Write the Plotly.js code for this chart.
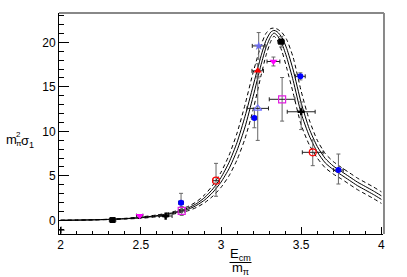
<!DOCTYPE html>
<html><head><meta charset="utf-8">
<script src="https://cdn.plot.ly/plotly-3.0.1.min.js"></script>
<style>html,body{margin:0;padding:0;background:#fff;}#plot{width:407px;height:277px;}</style>
</head><body><div id="plot"></div>
<script>
// Fit curves
const curveX = [2.0,2.1,2.2,2.3,2.4,2.5,2.6,2.7,2.8,2.85,2.9,2.95,3.0,3.05,3.1,3.15,3.2,3.25,3.28,3.31,3.33,3.35,3.38,3.41,3.45,3.5,3.55,3.6,3.65,3.7,3.75,3.8,3.85,3.9,3.95,4.0];
const solidHi = [0,0.02,0.05,0.11,0.19,0.32,0.53,0.86,1.43,1.90,2.59,3.54,4.81,6.5,8.75,11.7,15.1,18.5,20.2,21.15,21.35,21.2,20.55,19.3,16.9,13.2,10.3,8.3,6.95,6.1,5.5,4.9,4.3,3.8,3.3,2.75];
const solidLo = [0,0.02,0.05,0.09,0.17,0.28,0.47,0.78,1.27,1.70,2.31,3.16,4.29,5.8,7.85,10.5,13.9,17.5,19.4,20.65,21.05,20.8,19.85,18.3,15.7,12.0,9.5,7.7,6.45,5.7,5.1,4.5,3.9,3.4,2.9,2.35];
const dashHi = [0,0.025,0.06,0.12,0.22,0.38,0.60,0.95,1.60,2.13,2.90,3.97,5.40,7.30,9.80,13.0,16.6,19.7,21.0,21.55,21.6,21.5,21.1,20.3,18.3,14.5,11.3,9.0,7.5,6.6,5.95,5.35,4.75,4.25,3.75,3.2];
const dashLo = [0,0.015,0.04,0.08,0.14,0.22,0.40,0.69,1.10,1.47,2.0,2.73,3.70,5.0,6.8,9.2,12.4,16.3,18.5,20.1,20.7,20.3,19.0,17.1,14.3,10.7,8.5,7.0,5.9,5.2,4.65,4.05,3.45,2.95,2.45,1.9];

// Data points
const blackSqX = [2.324, 3.375], blackSqY = [0.03, 20.07], blackSqEx = [0.02, 0.02], blackSqEy = [0.12, 0.6];
const magTriX = [2.493, 3.327], magTriY = [0.52, 17.85], magTriEx = [0.02, 0.04], magTriEy = [0.1, 0.5];
const crossX = [2.655, 3.5], crossY = [0.48, 12.2], crossEx = [0.04, 0.087], crossEyP = [0.15, 1.1], crossEyM = [0.15, 2.0];
const blueX = [2.751, 3.208, 3.495, 3.732], blueY = [1.98, 11.5, 16.18, 5.65], blueEx = [0.015, 0.015, 0.03, 0.03], blueEyP = [1.05, 1.1, 0.4, 1.8], blueEyM = [1.05, 1.1, 0.4, 1.57];
const magSqX = [2.755, 3.381], magSqY = [1.05, 13.6], magSqEx = [0.02, 0.08], magSqEy = [0.5, 2.45];
const redCircX = [2.969, 3.572], redCircY = [4.45, 7.64], redCircEx = [0.02, 0.065], redCircEyP = [1.95, 1.4], redCircEyM = [1.75, 1.5];
const openTriX = [3.229], openTriY = [12.58], openTriEx = [0.067], openTriEy = [3.6];
const redTriX = [3.229], redTriY = [16.8], redTriEx = [0.036], redTriEy = [0.8];
const starX = [3.235], starY = [19.6], starEx = [0.04], starEy = [1.5];
const cornerX = [2.003], cornerY = [-1.1];

const xTicks = [2, 2.5, 3, 3.5, 4];
const yTicks = [0, 5, 10, 15, 20];

const vCol = '#666', hCol = '#222';
function pts(x, y, ex, eyP, eyM, marker) {
  return {
    x: x, y: y, type: 'scatter', mode: 'markers', marker: marker, hoverinfo: 'skip',
    error_x: {type: 'data', array: ex, color: hCol, thickness: 1, width: 2},
    error_y: {type: 'data', symmetric: false, array: eyP, arrayminus: eyM, color: vCol, thickness: 1, width: 2}
  };
}
function curve(y, dash) {
  return {x: curveX, y: y, type: 'scatter', mode: 'lines', hoverinfo: 'skip',
    line: {color: '#000', width: 1, dash: dash, shape: 'spline', smoothing: 0.6}};
}

const traces = [
  curve(dashHi, '4px,3px'), curve(dashLo, '4px,3px'), curve(solidHi, 'solid'), curve(solidLo, 'solid'),
  pts(blackSqX, blackSqY, blackSqEx, blackSqEy, blackSqEy, {symbol: 'square', size: 6, color: '#000'}),
  pts(magTriX, magTriY, magTriEx, magTriEy, magTriEy, {symbol: 'triangle-down', size: 7, color: '#ff00ff'}),
  pts(crossX, crossY, crossEx, crossEyP, crossEyM, {symbol: 'cross', size: 6, color: '#000'}),
  pts(blueX, blueY, blueEx, blueEyP, blueEyM, {symbol: 'circle', size: 6, color: '#0000ff'}),
  pts(magSqX, magSqY, magSqEx, magSqEy, magSqEy, {symbol: 'square-open', size: 7, color: '#e020e0', line: {width: 1.2}}),
  pts(redCircX, redCircY, redCircEx, redCircEyP, redCircEyM, {symbol: 'circle-open', size: 7, color: '#ff0000', line: {width: 1.2}}),
  pts(openTriX, openTriY, openTriEx, openTriEy, openTriEy, {symbol: 'triangle-up-open', size: 7, color: '#7070ff', line: {width: 1.2}}),
  pts(redTriX, redTriY, redTriEx, redTriEy, redTriEy, {symbol: 'triangle-up', size: 7, color: '#ff0000'}),
  pts(starX, starY, starEx, starEy, starEy, {symbol: 'star', size: 7, color: '#6a6aee'}),
  {x: cornerX, y: cornerY, type: 'scatter', mode: 'markers', hoverinfo: 'skip',
   marker: {symbol: 'cross-thin-open', size: 5, color: '#000', line: {width: 1, color: '#000'}}}
];

const W = 407, L = 59, R = 24, T = 13, B = 43, H = 277;
const pw = W - L - R, ph = H - T - B;
function px(p) { return (p - L) / pw; }
function py(p) { return (H - B - p) / ph; }
const font = {family: 'Liberation Sans, Arial, sans-serif', size: 12, color: '#000'};
const tf = function (s) { return {family: font.family, size: s, color: '#000'}; };
const layout = {
  width: W, height: H,
  margin: {l: L, r: R, t: T, b: B},
  paper_bgcolor: '#fff', plot_bgcolor: '#fff',
  showlegend: false,
  font: font,
  xaxis: {range: [1.99, 4.01], tickvals: xTicks, ticktext: xTicks.map(String), ticks: 'inside', ticklen: 7, tickcolor: '#000',
    showline: true, linecolor: '#000', linewidth: 1, showgrid: false, zeroline: false, tickfont: font,
    minor: {dtick: 0.1, tick0: 2, ticks: 'inside', ticklen: 3.5, tickcolor: '#000', showgrid: false}},
  yaxis: {range: [-1.54, 23.3], tickvals: yTicks, ticktext: yTicks.map(String), ticks: 'inside', ticklen: 10, tickcolor: '#000',
    showline: true, linecolor: '#000', linewidth: 1, showgrid: false, zeroline: false, tickfont: font,
    minor: {dtick: 1, tick0: 0, ticks: 'inside', ticklen: 5, tickcolor: '#000', showgrid: false}},
  shapes: [
    {type: 'line', xref: 'paper', yref: 'paper', x0: 0, x1: 1.003, y0: 1, y1: 1, line: {color: '#888', width: 2}},
    {type: 'line', xref: 'paper', yref: 'paper', x0: 1.003, x1: 1.003, y0: 0, y1: 1, line: {color: '#888', width: 2}},
    {type: 'line', xref: 'paper', yref: 'paper', x0: px(229.5), x1: px(251.5), y0: py(262.5), y1: py(262.5), line: {color: '#000', width: 1}}
  ],
  annotations: [
    {text: 'E<sub>cm</sub>', xref: 'paper', yref: 'paper', x: px(240.5), y: py(254.5), xanchor: 'center', yanchor: 'middle', showarrow: false, font: tf(13), borderpad: 0},
    {text: 'm<sub>π</sub>', xref: 'paper', yref: 'paper', x: px(240.5), y: py(268.5), xanchor: 'center', yanchor: 'middle', showarrow: false, font: tf(13), borderpad: 0},
    {text: 'm', xref: 'paper', yref: 'paper', x: px(4.5), y: py(139), xanchor: 'left', yanchor: 'middle', showarrow: false, font: tf(13), borderpad: 0},
    {text: '2', xref: 'paper', yref: 'paper', x: px(14.5), y: py(134), xanchor: 'left', yanchor: 'middle', showarrow: false, font: tf(8), borderpad: 0},
    {text: 'π', xref: 'paper', yref: 'paper', x: px(14.5), y: py(143), xanchor: 'left', yanchor: 'middle', showarrow: false, font: tf(8), borderpad: 0},
    {text: 'σ<sub>1</sub>', xref: 'paper', yref: 'paper', x: px(20), y: py(141), xanchor: 'left', yanchor: 'middle', showarrow: false, font: tf(13), borderpad: 0}
  ]
};
Plotly.newPlot('plot', traces, layout, {staticPlot: true, displayModeBar: false});
</script></body></html>
